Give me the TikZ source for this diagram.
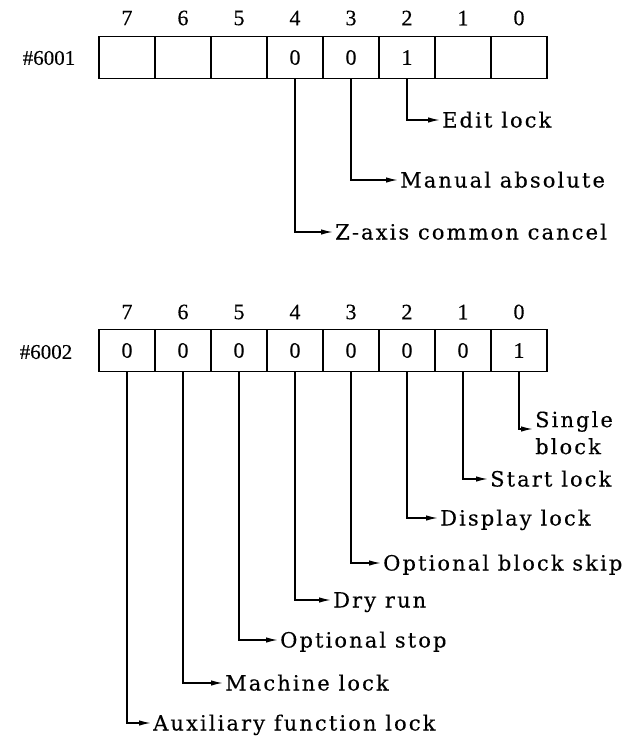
\documentclass[tikz,border=0pt]{standalone}
\usepackage{fontspec}
\newfontfamily\lblfont[LetterSpace=10,FakeBold=0.3]{DejaVu Serif}
\newfontfamily\numfont[FakeBold=0.3]{Liberation Serif}
\usetikzlibrary{arrows.meta}
\begin{document}
\begin{tikzpicture}[x=1pt,y=-1pt,
  cell/.style={draw, line width=1.1pt, minimum width=56pt, minimum height=42pt, inner sep=0pt, outer sep=0pt, font=\numfont\fontsize{22}{26}\selectfont},
  bitnum/.style={inner sep=0pt, font=\numfont\fontsize{22}{26}\selectfont},
  regname/.style={inner sep=0pt, font=\numfont\fontsize{21}{26}\selectfont},
  lbl/.style={anchor=west, inner sep=0pt, text height=15pt, text depth=0pt, font=\lblfont\fontsize{21}{27}\selectfont},
  conn/.style={line width=1.4pt, -{Latex[length=12pt,width=5.5pt]}, shorten >=2pt},
  frame/.style={line width=1.7pt}]
\useasboundingbox (0,0) rectangle (631,736);
% ---------- register #6001 ----------
\node[regname] (r1) at (49,58) {\#6001};
\foreach \b/\v [count=\i from 0] in {7/,6/,5/,4/0,3/0,2/1,1/,0/} {
  \node[cell] (a\b) at ({127+56*\i},57.5) {\v};
  \node[bitnum] (na\b) at ({127+56*\i},18) {\b};
}
\draw[frame] (a7.north west) rectangle (a0.south east);
\node[lbl] (ta2) at (442,120) {Edit lock};
\node[lbl] (ta3) at (400,180) {Manual absolute};
\node[lbl] (ta4) at (335,232) {Z-axis common cancel};
\draw[conn] (a2.south) |- (ta2.west);
\draw[conn] (a3.south) |- (ta3.west);
\draw[conn] (a4.south) |- (ta4.west);
% ---------- register #6002 ----------
\node[regname] (r2) at (46,352) {\#6002};
\foreach \b/\v [count=\i from 0] in {7/0,6/0,5/0,4/0,3/0,2/0,1/0,0/1} {
  \node[cell] (b\b) at ({127+56*\i},350.5) {\v};
  \node[bitnum] (nb\b) at ({127+56*\i},312) {\b};
}
\draw[frame] (b7.north west) rectangle (b0.south east);
\node[anchor=north west, inner sep=0pt, align=left, font=\lblfont\fontsize{21}{27}\selectfont] (tb0) at (535,411) {Single\\block};
\coordinate (tb0in) at (535,429);
\node[lbl] (tb1) at (490,479) {Start lock};
\node[lbl] (tb2) at (440,518) {Display lock};
\node[lbl] (tb3) at (383,563) {Optional block skip};
\node[lbl] (tb4) at (333,600) {Dry run};
\node[lbl] (tb5) at (280,640) {Optional stop};
\node[lbl] (tb6) at (225,683) {Machine lock};
\node[lbl] (tb7) at (153,723) {Auxiliary function lock};
\draw[conn] (b0.south) |- (tb0in);
\foreach \b in {1,...,7} {
  \draw[conn] (b\b.south) |- (tb\b.west);
}
\end{tikzpicture}
\end{document}
